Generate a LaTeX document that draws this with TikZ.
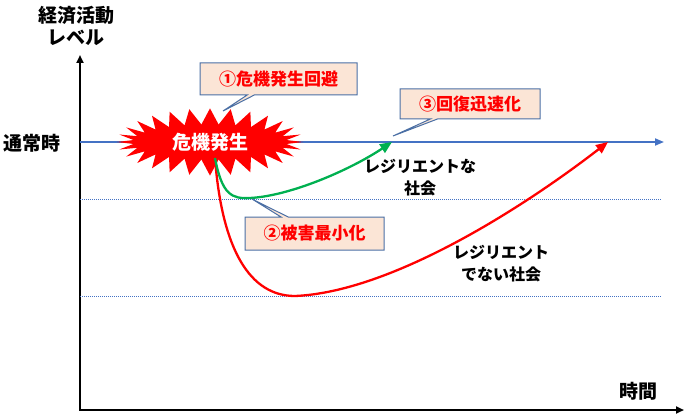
\documentclass[tikz,border=0pt]{standalone}
\usepackage{fontspec}
\setmainfont{Noto Sans CJK JP}
\usetikzlibrary{arrows.meta,shapes.symbols,shapes.callouts,positioning}

\definecolor{lineblue}{HTML}{4472C4}
\definecolor{boxblue}{HTML}{4A6FA5}
\definecolor{peach}{HTML}{FBE5D6}
\definecolor{curvegreen}{HTML}{00B050}

\begin{document}
\begin{tikzpicture}[x=1pt,y=-1pt,>=latex]

  \tikzstyle{axis}=[line width=2.5pt,{Triangle[length=8pt,width=7pt]}-{Triangle[length=8pt,width=7pt]}];
  \tikzstyle{level}=[lineblue,line width=1.8pt,-{Triangle[length=9pt,width=7pt]}];
  \tikzstyle{ref}=[lineblue,line width=1pt,dash pattern=on 1pt off 1pt];
  \tikzstyle{path}=[line width=2.3pt,-{Triangle[length=12pt,width=10pt]}];
  \tikzstyle{memo}=[rectangle callout,draw=boxblue,fill=peach,line width=1pt,
    text=red,font=\bfseries\fontsize{17}{20}\selectfont,inner sep=0pt];
  \tikzstyle{lbl}=[font=\bfseries\fontsize{16}{22}\selectfont,align=center];
  \tikzstyle{big}=[font=\bfseries\fontsize{19}{22}\selectfont,align=center];

  \useasboundingbox (0,0) rectangle (688,417);

  %% axes
  \coordinate (o) at (80,410);
  \coordinate (ytop) at (80,55);
  \coordinate (xend) at (684,410);
  \draw[axis] (ytop) -- (o) -- (xend);

  \node[big] (level) at (76,26) {経済活動\\レベル};
  \node[big] (time) at (638,391) {時間};
  \node[big] (normal) at (32,143) {通常時};

  %% normal level and lower levels
  \coordinate (n0) at (80,142);
  \coordinate (n1) at (664,142);
  \draw[level] (n0) -- (n1);

  \coordinate (d1a) at (80,199);
  \coordinate (d1b) at (662,199);
  \coordinate (d2a) at (80,296);
  \coordinate (d2b) at (662,296);
  \draw[ref] (d1a) -- (d1b);
  \draw[ref] (d2a) -- (d2b);

  %% crisis
  \node[starburst,starburst points=28,starburst point height=16pt,random starburst=0,
    fill=red,draw=none,text=white,minimum width=186pt,minimum height=48pt,
    font=\bfseries\fontsize{19}{22}\selectfont] (crisis) at (210,142) {危機発生};

  \coordinate (start) at (215,158);
  \coordinate (gmin) at (250,198);
  \coordinate (gend) at (392,142);
  \coordinate (rmin) at (295,296);
  \coordinate (rend) at (608,142);

  \draw[path,red] (start) .. controls (222,250) and (250,296) .. (rmin)
    .. controls (390,292) and (520,210) .. (rend);
  \draw[path,curvegreen] (start) .. controls (222,195) and (232,199) .. (gmin)
    .. controls (290,196) and (350,170) .. (gend);

  \node[lbl] (res) at (420,178) {レジリエントな\\社会};
  \node[lbl] (nonres) at (501,264) {レジリエント\\でない社会};

  %% callouts
  \node[memo,minimum width=157pt,minimum height=32pt,callout absolute pointer={(223,111)}]
    (avoid) at (278.5,79) {①危機発生回避};
  \node[memo,minimum width=140pt,minimum height=30pt,callout absolute pointer={(393,136)}]
    (recover) at (470,104) {③回復迅速化};
  \node[memo,minimum width=139pt,minimum height=33pt,callout absolute pointer={(252,199)}]
    (damage) at (314.5,233.5) {②被害最小化};

\end{tikzpicture}
\end{document}
